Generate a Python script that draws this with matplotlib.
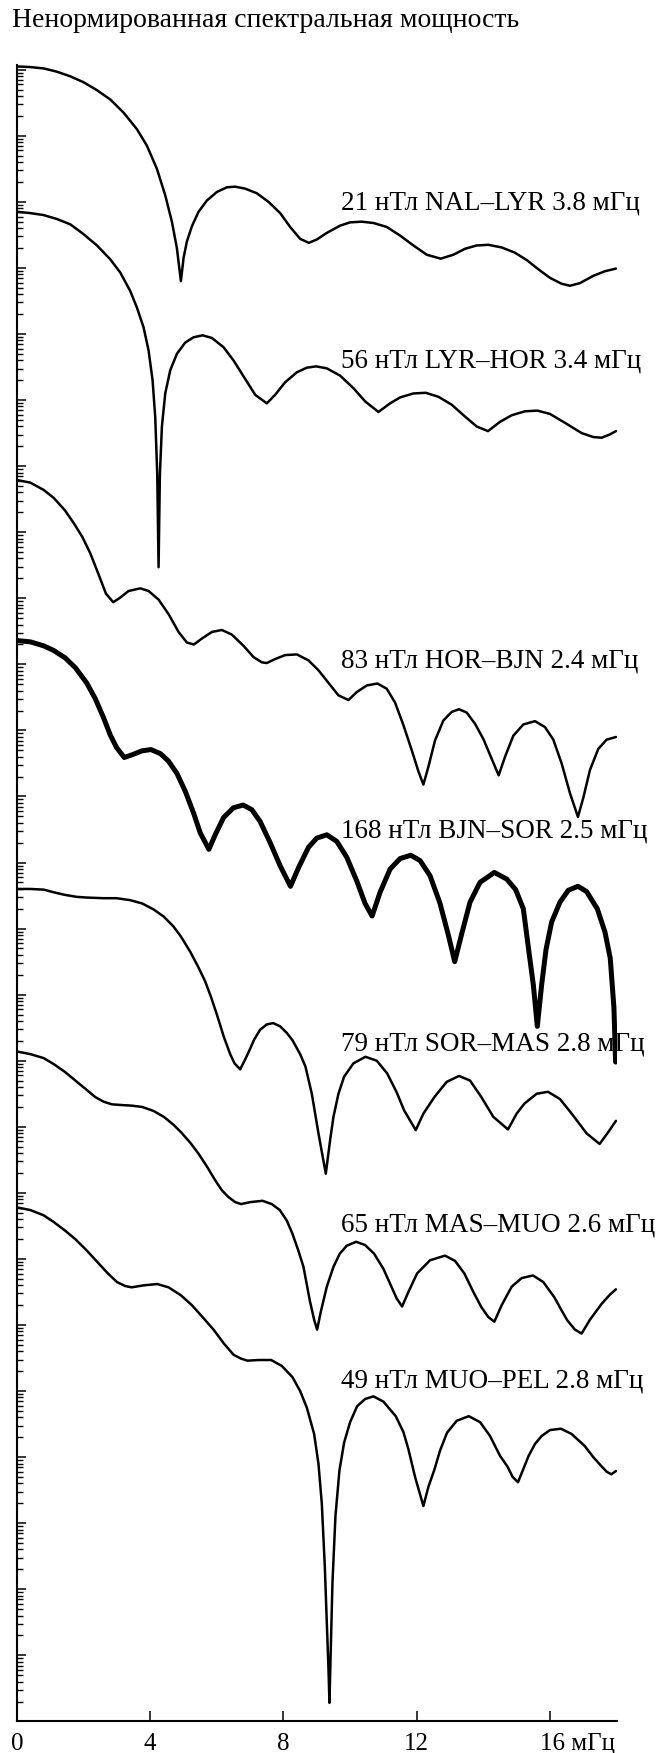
import matplotlib
matplotlib.use("Agg")
import matplotlib.pyplot as plt
import numpy as np
from matplotlib.ticker import LogLocator, NullFormatter

plt.rcParams['font.family'] = ['Liberation Serif', 'DejaVu Serif']

# frequency (mHz) and log10 of unnormalised spectral power
f_nal_lyr = [0, 0.4, 0.8, 1.2, 1.6, 2.0, 2.4, 2.8, 3.2, 3.6, 3.9, 4.2, 4.45, 4.65, 4.8, 4.92,
             5.0, 5.1, 5.25, 5.45, 5.7, 6.0, 6.3, 6.55, 6.85, 7.2, 7.55, 7.9, 8.2, 8.5, 8.76,
             9.0, 9.3, 9.7, 10.0, 10.35, 10.7, 11.1, 11.5, 11.9, 12.3, 12.72, 13.1, 13.45, 13.8,
             14.15, 14.55, 14.95, 15.3, 15.65, 16.0, 16.35, 16.6, 16.9, 17.3, 17.65, 17.98]
p_nal_lyr = [25.05, 25.04, 25.02, 24.97, 24.9, 24.81, 24.69, 24.55, 24.35, 24.1, 23.85, 23.5,
             23.1, 22.7, 22.3, 21.8, 22.15, 22.4, 22.63, 22.85, 23.02, 23.15, 23.22, 23.23, 23.2,
             23.13, 23.0, 22.83, 22.62, 22.44, 22.38, 22.43, 22.53, 22.64, 22.69, 22.7, 22.68,
             22.62, 22.49, 22.34, 22.2, 22.14, 22.2, 22.29, 22.34, 22.35, 22.31, 22.23, 22.12,
             21.98, 21.85, 21.76, 21.73, 21.77, 21.88, 21.95, 21.99]

f_lyr_hor = [0, 0.4, 0.8, 1.2, 1.6, 2.0, 2.4, 2.8, 3.1, 3.4, 3.6, 3.8, 3.95, 4.07, 4.15, 4.21,
             4.25, 4.29, 4.35, 4.45, 4.6, 4.8, 5.05, 5.3, 5.57, 5.85, 6.2, 6.5, 6.85, 7.15, 7.5,
             7.75, 8.05, 8.4, 8.7, 8.98, 9.3, 9.7, 10.1, 10.45, 10.85, 11.2, 11.5, 11.9, 12.27,
             12.65, 13.05, 13.45, 13.8, 14.14, 14.5, 14.85, 15.25, 15.62, 16.0, 16.5, 16.95, 17.3,
             17.55, 17.8, 17.98]
p_lyr_hor = [22.85, 22.83, 22.8, 22.74, 22.66, 22.51, 22.34, 22.13, 21.93, 21.65, 21.4, 21.1,
             20.75, 20.3, 19.74, 18.88, 17.47, 18.88, 19.6, 20.1, 20.45, 20.7, 20.87, 20.95,
             20.98, 20.94, 20.8, 20.6, 20.32, 20.08, 19.95, 20.08, 20.27, 20.42, 20.49, 20.51,
             20.48, 20.37, 20.18, 19.98, 19.82, 19.95, 20.04, 20.1, 20.11, 20.05, 19.93, 19.75,
             19.6, 19.53, 19.67, 19.77, 19.83, 19.84, 19.79, 19.64, 19.5, 19.44, 19.43, 19.48,
             19.53]

f_hor_bjn = [0, 0.4, 0.8, 1.1, 1.44, 1.7, 1.96, 2.2, 2.45, 2.67, 2.89, 3.1, 3.35, 3.7, 3.95, 4.25,
             4.55, 4.85, 5.1, 5.31, 5.55, 5.85, 6.15, 6.45, 6.8, 7.1, 7.35, 7.5, 7.75, 8.05, 8.4,
             8.75, 9.05, 9.35, 9.65, 9.95, 10.2, 10.5, 10.82, 11.1, 11.35, 11.6, 11.85, 12.05, 12.2,
             12.35, 12.55, 12.8, 13.05, 13.27, 13.5, 13.75, 14.0, 14.25, 14.46, 14.65, 14.9, 15.2,
             15.55, 15.85, 16.1, 16.35, 16.6, 16.84, 17.0, 17.2, 17.45, 17.7, 17.98]
p_hor_bjn = [18.79, 18.75, 18.64, 18.52, 18.33, 18.14, 17.93, 17.68, 17.36, 17.07, 16.94, 17.01,
             17.11, 17.15, 17.11, 16.98, 16.76, 16.49, 16.33, 16.30, 16.39, 16.49, 16.52, 16.45,
             16.28, 16.11, 16.03, 16.02, 16.08, 16.14, 16.15, 16.06, 15.91, 15.72, 15.53, 15.46,
             15.58, 15.68, 15.71, 15.63, 15.42, 15.08, 14.7, 14.38, 14.18, 14.45, 14.85, 15.15,
             15.28, 15.32, 15.27, 15.1, 14.87, 14.57, 14.32, 14.6, 14.92, 15.09, 15.14, 15.05,
             14.86, 14.5, 14.05, 13.69, 13.98, 14.4, 14.72, 14.86, 14.9]

f_bjn_sor = [0, 0.4, 0.8, 1.1, 1.44, 1.75, 2.09, 2.35, 2.6, 2.8, 2.99, 3.22, 3.45, 3.75, 4.02, 4.3,
             4.54, 4.8, 5.05, 5.3, 5.5, 5.76, 5.95, 6.2, 6.5, 6.79, 7.05, 7.3, 7.6, 7.9, 8.21, 8.45,
             8.75, 9.0, 9.3, 9.6, 9.9, 10.2, 10.45, 10.66, 10.9, 11.2, 11.5, 11.82, 12.1, 12.4, 12.7,
             12.95, 13.14, 13.35, 13.6, 13.9, 14.33, 14.7, 14.97, 15.2, 15.36, 15.5, 15.62, 15.75,
             15.88, 16.05, 16.3, 16.55, 16.84, 17.1, 17.42, 17.65, 17.81, 17.92, 17.97]
p_bjn_sor = [16.36, 16.34, 16.28, 16.21, 16.1, 15.95, 15.72, 15.48, 15.19, 14.93, 14.74, 14.59,
             14.63, 14.69, 14.71, 14.65, 14.54, 14.35, 14.08, 13.75, 13.45, 13.2, 13.42, 13.68,
             13.83, 13.87, 13.8, 13.62, 13.3, 12.95, 12.64, 12.92, 13.23, 13.37, 13.42, 13.32,
             13.08, 12.72, 12.38, 12.19, 12.55, 12.9, 13.06, 13.11, 13.03, 12.8, 12.38, 11.9, 11.5,
             11.92, 12.4, 12.7, 12.85, 12.75, 12.59, 12.3, 11.68, 11.15, 10.52, 11.15, 11.68,
             12.1, 12.4, 12.58, 12.64, 12.56, 12.3, 11.95, 11.55, 10.8, 9.98]

f_sor_mas = [0, 0.4, 0.8, 1.1, 1.44, 1.8, 2.09, 2.6, 2.99, 3.4, 3.76, 4.1, 4.41, 4.7, 4.92, 5.2,
             5.44, 5.65, 5.82, 6.0, 6.21, 6.4, 6.53, 6.70, 6.85, 6.98, 7.12, 7.3, 7.5, 7.69, 7.9,
             8.1, 8.27, 8.5, 8.66, 8.85, 9.05, 9.27, 9.4, 9.5, 9.65, 9.82, 10.1, 10.46, 10.8, 11.11,
             11.4, 11.62, 11.97, 12.2, 12.53, 12.9, 13.27, 13.6, 13.94, 14.3, 14.74, 15.0, 15.23,
             15.6, 15.94, 16.3, 16.65, 17.1, 17.49, 17.75, 17.98]
p_sor_mas = [12.6, 12.6, 12.59, 12.55, 12.51, 12.48, 12.47, 12.46, 12.46, 12.43, 12.38, 12.29,
             12.18, 12.03, 11.88, 11.65, 11.42, 11.2, 10.97, 10.7, 10.36, 10.1, 9.96, 9.87, 10.02,
             10.16, 10.32, 10.47, 10.55, 10.57, 10.52, 10.42, 10.31, 10.1, 9.91, 9.5, 8.9, 8.29,
             8.8, 9.15, 9.5, 9.76, 9.96, 10.06, 10.0, 9.81, 9.52, 9.25, 8.95, 9.2, 9.45, 9.68, 9.77,
             9.7, 9.45, 9.15, 8.96, 9.2, 9.35, 9.5, 9.53, 9.42, 9.2, 8.9, 8.74, 8.92, 9.09]

f_mas_muo = [0, 0.4, 0.8, 1.1, 1.44, 1.8, 2.09, 2.35, 2.6, 2.85, 3.12, 3.45, 3.76, 4.1, 4.41, 4.7,
             4.92, 5.2, 5.44, 5.7, 5.95, 6.15, 6.34, 6.55, 6.73, 7.0, 7.37, 7.65, 7.89, 8.1, 8.27,
             8.45, 8.6, 8.79, 8.92, 9.01, 9.12, 9.3, 9.5, 9.69, 9.9, 10.18, 10.45, 10.72, 11.0,
             11.24, 11.4, 11.56, 11.75, 12.01, 12.4, 12.85, 13.15, 13.43, 13.7, 13.94, 14.15, 14.33,
             14.55, 14.85, 15.15, 15.49, 15.8, 16.13, 16.35, 16.52, 16.75, 16.95, 17.2, 17.55,
             17.8, 17.98]
p_mas_muo = [10.14, 10.1, 10.04, 9.95, 9.83, 9.68, 9.56, 9.45, 9.38, 9.34, 9.33, 9.32, 9.3, 9.24,
             9.15, 9.03, 8.92, 8.76, 8.6, 8.4, 8.19, 8.04, 7.94, 7.86, 7.83, 7.86, 7.88, 7.83,
             7.74, 7.58, 7.38, 7.12, 6.88, 6.37, 6.08, 5.93, 6.2, 6.58, 6.88, 7.08, 7.2, 7.26, 7.21,
             7.08, 6.85, 6.58, 6.4, 6.28, 6.5, 6.78, 6.98, 7.05, 6.97, 6.78, 6.5, 6.27, 6.12, 6.05,
             6.3, 6.58, 6.71, 6.75, 6.65, 6.42, 6.22, 6.07, 5.93, 5.87, 6.08, 6.32, 6.46, 6.54]

f_muo_pel = [0, 0.4, 0.8, 1.1, 1.44, 1.75, 2.09, 2.4, 2.73, 3.0, 3.25, 3.44, 3.8, 4.21, 4.55, 4.92,
             5.25, 5.57, 5.9, 6.21, 6.5, 6.73, 6.92, 7.25, 7.63, 7.95, 8.27, 8.5, 8.7, 8.92, 9.05,
             9.15, 9.24, 9.3, 9.35, 9.38, 9.42, 9.47, 9.56, 9.68, 9.82, 10.0, 10.21, 10.45, 10.7,
             11.0, 11.37, 11.6, 11.75, 11.95, 12.2, 12.35, 12.53, 12.7, 12.91, 13.2, 13.56, 13.9,
             14.2, 14.5, 14.72, 14.88, 15.04, 15.2, 15.36, 15.55, 15.75, 16.0, 16.33, 16.65, 17.04,
             17.3, 17.55, 17.7, 17.84, 17.98]
p_muo_pel = [7.78, 7.74, 7.66, 7.56, 7.43, 7.3, 7.13, 6.96, 6.78, 6.65, 6.59, 6.57, 6.6, 6.62,
             6.57, 6.45, 6.3, 6.12, 5.93, 5.72, 5.55, 5.49, 5.46, 5.47, 5.47, 5.38, 5.21, 5.0,
             4.75, 4.35, 3.9, 3.3, 2.35, 1.5, 0.8, 0.28, 1.1, 2.1, 3.11, 3.8, 4.22, 4.53, 4.77,
             4.88, 4.92, 4.84, 4.62, 4.38, 4.12, 3.7, 3.26, 3.55, 3.81, 4.1, 4.37, 4.55, 4.62,
             4.53, 4.32, 4.02, 3.86, 3.7, 3.62, 3.82, 4.02, 4.2, 4.32, 4.41, 4.43, 4.35, 4.17,
             4.0, 3.86, 3.78, 3.74, 3.79]

labels = ["21 нТл NAL–LYR 3.8 мГц", "56 нТл LYR–HOR 3.4 мГц", "83 нТл HOR–BJN 2.4 мГц",
          "168 нТл BJN–SOR 2.5 мГц", "79 нТл SOR–MAS 2.8 мГц", "65 нТл MAS–MUO 2.6 мГц",
          "49 нТл MUO–PEL 2.8 мГц"]

curves = [(f_nal_lyr, p_nal_lyr), (f_lyr_hor, p_lyr_hor), (f_hor_bjn, p_hor_bjn),
          (f_bjn_sor, p_bjn_sor), (f_sor_mas, p_sor_mas), (f_mas_muo, p_mas_muo),
          (f_muo_pel, p_muo_pel)]
widths = [1.8, 1.8, 1.8, 3.6, 1.8, 1.8, 1.8]
label_logy = [22.88, 20.5, 15.95, 13.38, 10.16, 7.41, 5.06]  # baseline of each caption

fig = plt.figure(figsize=(6.7, 17.53), dpi=100)
ax = fig.add_axes([17 / 670, 31.6 / 1753, 599.6 / 670, 1656.3 / 1753])

for (f, p), lw in zip(curves, widths):
    ax.plot(f, 10 ** np.array(p), color='black', lw=lw,
            solid_joinstyle='round', solid_capstyle='round')

for text, ly in zip(labels, label_logy):
    ax.text(9.74, 10 ** ly, text, ha='left', va='baseline', fontsize=19.5)

ax.set_yscale('log')
ax.set_xlim(0, 18)
ax.set_ylim(1, 10 ** 25.07)

ax.yaxis.set_major_locator(LogLocator(base=10, numticks=100))
ax.yaxis.set_minor_locator(LogLocator(base=10, subs=np.arange(2, 10), numticks=100))
ax.yaxis.set_minor_formatter(NullFormatter())
ax.tick_params(axis='y', which='major', direction='in', length=6.5, width=1.1, labelleft=False)
ax.tick_params(axis='y', which='minor', direction='in', length=4.3, width=1.0)

ax.set_xticks([0, 4, 8, 12, 16])
ax.set_xticklabels(['0', '4', '8', '12', ''])
ax.tick_params(axis='x', direction='in', length=7, width=1.1, labelsize=18, pad=8.5)
ax.annotate('16 мГц', xy=(16, 0), xycoords=('data', 'axes fraction'),
            xytext=(-7.2, -8.5), textcoords='offset points', ha='left', va='top', fontsize=18)

for side in ['top', 'right']:
    ax.spines[side].set_visible(False)
for side in ['left', 'bottom']:
    ax.spines[side].set_linewidth(1.5)

fig.text(12 / 670, 1 - 27 / 1753, 'Ненормированная спектральная мощность',
         ha='left', va='baseline', fontsize=20)

fig.savefig('out.png', dpi=100)
